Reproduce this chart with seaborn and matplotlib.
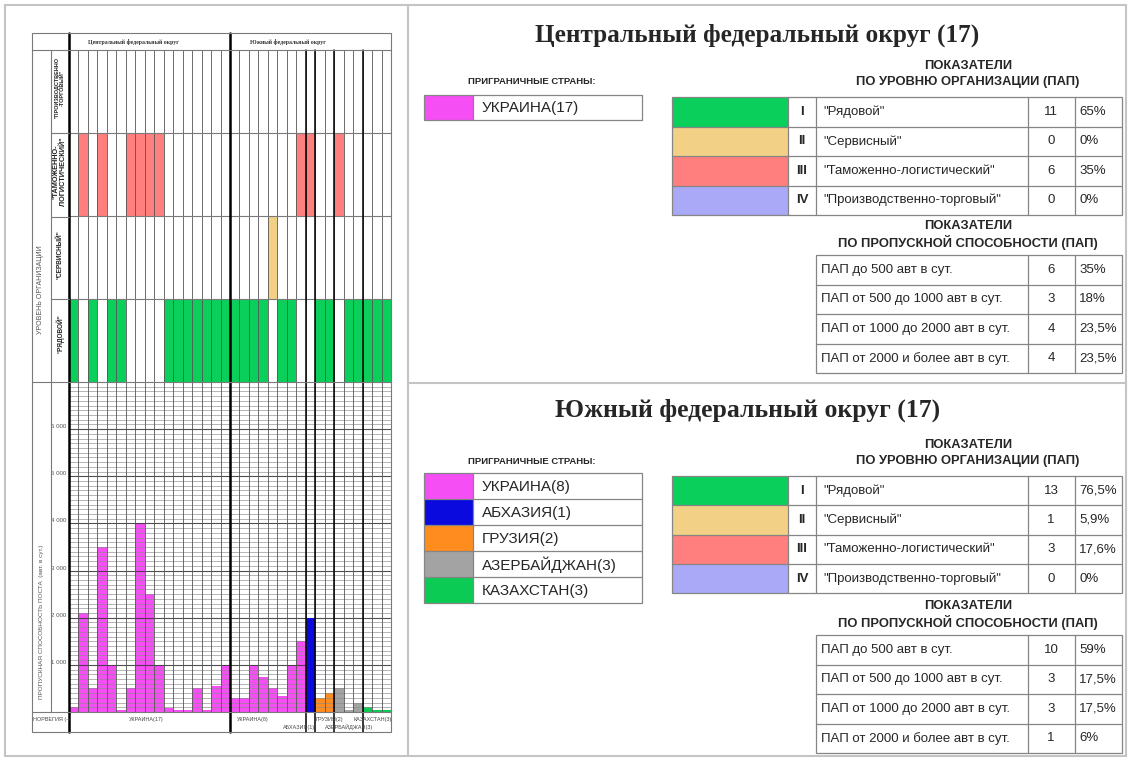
import numpy as np
import pandas as pd
import matplotlib
matplotlib.use("Agg")
import matplotlib.pyplot as plt
from matplotlib.colors import ListedColormap, to_rgba
from matplotlib.patches import Rectangle
import seaborn as sns

# ---------------------------------------------------------------- data
# organisation level of each border crossing point (П, Т, С, Р)
central_levels = ["Р", "Т", "Р", "Т", "Р", "Р", "Т", "Т", "Т", "Т",
                  "Р", "Р", "Р", "Р", "Р", "Р", "Р"]
south_levels = ["Р", "Р", "Р", "Р", "С", "Р", "Р", "Т", "Т", "Р",
                "Р", "Т", "Р", "Р", "Р", "Р", "Р"]

# capacity of each crossing point, vehicles per day
central_capacity = [100, 2100, 500, 3500, 1000, 50, 500, 4000, 2500, 1000,
                    80, 50, 50, 500, 50, 550, 1000]
south_capacity = [300, 300, 1000, 750, 500, 350, 1000, 1500, 2000, 300,
                  400, 500, 50, 200, 100, 50, 50]

# neighbouring countries: (name, number of crossing points)
central_groups = [("УКРАИНА", 17)]
south_groups = [("УКРАИНА", 8), ("АБХАЗИЯ", 1), ("ГРУЗИЯ", 2),
                ("АЗЕРБАЙДЖАН", 3), ("КАЗАХСТАН", 3)]
country_colors = {"УКРАИНА": "#F44EF4", "АБХАЗИЯ": "#0A0ADE",
                  "ГРУЗИЯ": "#FF8C1E", "АЗЕРБАЙДЖАН": "#A3A3A3",
                  "КАЗАХСТАН": "#0CCB55"}

level_codes = ["П", "Т", "С", "Р"]           # rows, top to bottom
level_row_labels = ['"ПРОИЗВОДСТВЕННО\n-ТОРГОВЫЙ"', '"ТАМОЖЕННО-\nЛОГИСТИЧЕСКИЙ"',
                    '"СЕРВИСНЫЙ"', '"РЯДОВОЙ"']
level_colors = {"Р": "#0ACF5A", "С": "#F2D186", "Т": "#FF7F7F", "П": "#A9A9F7"}

# summary tables
org_roman = ["I", "II", "III", "IV"]
org_names = ['"Рядовой"', '"Сервисный"', '"Таможенно-логистический"',
             '"Производственно-торговый"']
org_codes = ["Р", "С", "Т", "П"]
central_org_counts = [11, 0, 6, 0]
central_org_pct = ["65%", "0%", "35%", "0%"]
south_org_counts = [13, 1, 3, 0]
south_org_pct = ["76,5%", "5,9%", "17,6%", "0%"]

cap_names = ["ПАП до 500 авт в сут.", "ПАП от 500 до 1000 авт в сут.",
             "ПАП от 1000 до 2000 авт в сут.", "ПАП от 2000 и более авт в сут."]
central_cap_counts = [6, 3, 4, 4]
central_cap_pct = ["35%", "18%", "23,5%", "23,5%"]
south_cap_counts = [10, 3, 3, 1]
south_cap_pct = ["59%", "17,5%", "17,5%", "6%"]

# ---------------------------------------------------------------- style
sns.set_style("white")
plt.rcParams["font.family"] = ["Liberation Sans", "DejaVu Sans"]
SERIF = ["Liberation Serif", "DejaVu Serif"]

W, H = 1130, 760
fig = plt.figure(figsize=(W / 100, H / 100), dpi=100)
fig.patch.set_facecolor("white")


def px_axes(x0, y0, x1, y1, z=1):
    return fig.add_axes([x0 / W, 1 - y1 / H, (x1 - x0) / W, (y1 - y0) / H], zorder=z)


# ---------------------------------------------------------------- tidy frame
countries = [c for name, n in central_groups + south_groups for c in [name] * n]
levels = central_levels + south_levels
capacity = central_capacity + south_capacity
n_cols = len(levels)
df = pd.DataFrame({"pos": np.arange(n_cols), "value": capacity,
                   "country": countries, "level": levels})

# group boundaries (in column units)
sizes = [n for _, n in central_groups] + [n for _, n in south_groups]
bounds = np.cumsum([0] + sizes)[:-1]
district_bounds = [0, sum(n for _, n in central_groups)]

CX0, CX1 = 69, 391
THIN = "#555555"
FRAME = "#7a7a7a"

# ---------------------------------------------------------------- header row
ax_head = px_axes(CX0, 33, CX1, 50)
ax_head.set_xlim(0, n_cols)
ax_head.set_ylim(1, 0)
ax_head.axis("off")
for b in district_bounds:
    ax_head.axvline(b, color="black", lw=1.8, clip_on=False)

# ---------------------------------------------------------------- level grid
mat = np.array([[level_codes.index(l) + 1 if l == code else 0 for l in levels]
                for code in level_codes])
# colour index: 0 empty, then П, Т, С, Р
cmap = ListedColormap(["white"] + [level_colors[c] for c in level_codes])
ax_top = px_axes(CX0, 50, CX1, 382)
sns.heatmap(mat, cmap=cmap, vmin=-0.5, vmax=4.5, cbar=False, ax=ax_top,
            xticklabels=False, yticklabels=False)
for i in range(1, n_cols):
    ax_top.axvline(i, color=THIN, lw=0.6)
for j in range(1, len(level_codes)):
    ax_top.axhline(j, color=FRAME, lw=0.8)
for b in bounds:
    ax_top.axvline(b, color="black", lw=1.8 if b in district_bounds else 1.1, clip_on=False)

# ---------------------------------------------------------------- capacity bars
ax_bar = px_axes(CX0, 382, CX1, 712)
sns.barplot(data=df, x="pos", y="value", hue="country", palette=country_colors,
            hue_order=list(country_colors), dodge=False, width=1, saturation=1,
            errorbar=None, legend=False, linewidth=0, ax=ax_bar)
# the dark Abkhazia bar sits over the grid
dark = to_rgba(country_colors["АБХАЗИЯ"])
for p in ax_bar.patches:
    if np.allclose(p.get_facecolor(), dark):
        p.set_zorder(3.5)
ax_bar.set_xlim(-0.5, n_cols - 0.5)
ax_bar.set_ylim(0, 7000)
for v in range(100, 7000, 100):
    major = v % 1000 == 0
    ax_bar.axhline(v, color="#3c3c3c" if major else "#8c8c8c",
                   lw=0.8 if major else 0.5, zorder=3, alpha=0.9)
for i in range(1, n_cols):
    ax_bar.axvline(i - 0.5, color=THIN, lw=0.6, zorder=3.6)
for b in bounds:
    ax_bar.axvline(b - 0.5, color="black", lw=1.8 if b in district_bounds else 1.1,
                   zorder=4, clip_on=False)
for s in ax_bar.spines.values():
    s.set_visible(False)
ax_bar.set_xlabel("")
ax_bar.set_ylabel("")
ax_bar.set_xticks([])
ticks = list(range(1000, 7000, 1000))
ax_bar.set_yticks(ticks)
ax_bar.set_yticklabels([f"{t // 1000} 000" for t in ticks])
ax_bar.tick_params(axis="y", length=0, pad=2, labelsize=4.4, labelcolor="#555555")
for lab in ax_bar.get_yticklabels():
    lab.set_va("bottom")

# ---------------------------------------------------------------- country label row
ax_lab = px_axes(CX0, 712, CX1, 732)
ax_lab.set_xlim(-0.5, n_cols - 0.5)
ax_lab.set_ylim(1, 0)
ax_lab.axis("off")
for b in bounds:
    ax_lab.axvline(b - 0.5, color="black", lw=1.8 if b in district_bounds else 1.1,
                   clip_on=False)

# ---------------------------------------------------------------- overlay (pixel coords)
ov = fig.add_axes([0, 0, 1, 1], zorder=10)
ov.set_xlim(0, W)
ov.set_ylim(H, 0)
ov.axis("off")
ov.patch.set_alpha(0)

# page frame
ov.add_patch(Rectangle((5, 5), 1121, 751, fill=False, ec="#c4c4c4", lw=1.5))
ov.plot([408, 408], [5, 756], color="#c4c4c4", lw=1.5)
ov.plot([408, 1126], [383, 383], color="#c4c4c4", lw=1.5)

# left chart frame
ov.add_patch(Rectangle((32, 33), CX1 - 32, 732 - 33, fill=False, ec=FRAME, lw=0.8))
for y in (50, 382, 712):
    ov.plot([32, CX1], [y, y], color=FRAME, lw=0.8)
for y in (133, 217, 299):
    ov.plot([51, CX0], [y, y], color=FRAME, lw=0.8)
ov.plot([51, 51], [50, 712], color=FRAME, lw=0.8)

ov.text(133, 42, "Центральный федеральный округ", family=SERIF, weight="bold",
        fontsize=4.2, ha="center", va="center", color="#333333")
ov.text(288, 42, "Южный федеральный округ", family=SERIF, weight="bold",
        fontsize=4.2, ha="center", va="center", color="#333333")

row_centres = [88, 172, 255, 334]
row_sizes = [4.0, 5.3, 4.7, 4.7]
for lab, yc, fs in zip(level_row_labels, row_centres, row_sizes):
    ov.text(60, yc, lab, rotation=90, fontsize=fs, weight="bold",
            ha="center", va="center", linespacing=1.0, color="#222222")
ov.text(40, 290, "УРОВЕНЬ ОРГАНИЗАЦИИ", rotation=90, fontsize=5.0,
        ha="center", va="center", color="#555555")
ov.text(42, 622, "ПРОПУСКНАЯ СПОСОБНОСТЬ ПОСТА  (авт. в сут.)", rotation=90,
        fontsize=4.6, ha="center", va="center", color="#555555")

lab_kw = dict(fontsize=3.9, color="#444444", va="center")
ov.text(51, 720, "НОРВЕГИЯ (-)", ha="center", **lab_kw)
ov.text(146, 720, "УКРАИНА(17)", ha="center", **lab_kw)
ov.text(237, 719, "УКРАИНА(8)", ha="left", **lab_kw)
ov.text(315, 727, "АБХАЗИЯ(1)", ha="right", **lab_kw)
ov.text(316, 719, "ГРУЗИЯ(2)", ha="left", **lab_kw)
ov.text(325, 727, "АЗЕРБАЙДЖАН(3)", ha="left", **lab_kw)
ov.text(353, 719, "КАЗАХСТАН(3)", ha="left", **lab_kw)

# ---------------------------------------------------------------- right panel
LINE = "#858585"
TXT = 9.5


def grid_table(x_bounds, y_top, row_h, nrows):
    x0, x1 = x_bounds[0], x_bounds[-1]
    y1 = y_top + row_h * nrows
    ov.add_patch(Rectangle((x0, y_top), x1 - x0, y1 - y_top, fill=False, ec=LINE, lw=0.9))
    for r in range(1, nrows):
        y = y_top + r * row_h
        ov.plot([x0, x1], [y, y], color=LINE, lw=0.9)
    for x in x_bounds[1:-1]:
        ov.plot([x, x], [y_top, y1], color=LINE, lw=0.9)


def legend_box(names, y_top, row_h):
    x0, xs, x1 = 424, 473, 642
    for i, name in enumerate(names):
        y = y_top + i * row_h
        key = name.split("(")[0]
        ov.add_patch(Rectangle((x0, y), xs - x0, row_h, fc=country_colors[key], ec="none"))
        ov.text(482, y + row_h / 2 + 0.5, name, fontsize=11, ha="left", va="center")
    grid_table([x0, xs, x1], y_top, row_h, len(names))


def org_table(y_top, row_h, counts, pcts):
    xb = [672, 788, 816, 1028, 1075, 1122]
    for i, code in enumerate(org_codes):
        y = y_top + i * row_h
        ov.add_patch(Rectangle((xb[0], y), xb[1] - xb[0], row_h,
                               fc=level_colors[code], ec="none"))
        yc = y + row_h / 2
        ov.text(802, yc, org_roman[i], fontsize=TXT, weight="bold", ha="center", va="center")
        ov.text(823, yc, org_names[i], fontsize=TXT, ha="left", va="center")
        ov.text(1051, yc, str(counts[i]), fontsize=TXT, ha="center", va="center")
        ov.text(1079, yc, pcts[i], fontsize=TXT, ha="left", va="center")
    grid_table(xb, y_top, row_h, 4)


def cap_table(y_top, row_h, counts, pcts):
    xb = [816, 1028, 1075, 1122]
    for i in range(4):
        yc = y_top + i * row_h + row_h / 2
        ov.text(821, yc, cap_names[i], fontsize=TXT, ha="left", va="center")
        ov.text(1051, yc, str(counts[i]), fontsize=TXT, ha="center", va="center")
        ov.text(1079, yc, pcts[i], fontsize=TXT, ha="left", va="center")
    grid_table(xb, y_top, row_h, 4)


def block_heading(y, second):
    ov.text(968, y, "ПОКАЗАТЕЛИ", fontsize=9.3, weight="bold", ha="center", va="center")
    ov.text(968, y + 16, second, fontsize=9.3, weight="bold", ha="center", va="center")


# Central district
ov.text(757, 35, "Центральный федеральный округ (17)", family=SERIF, weight="bold",
        fontsize=18.2, ha="center", va="center")
ov.text(532, 81, "ПРИГРАНИЧНЫЕ СТРАНЫ:", fontsize=6.8, weight="bold",
        ha="center", va="center")
legend_box([f"{n}({k})" for n, k in central_groups], 95, 25)
block_heading(66, "ПО УРОВНЮ ОРГАНИЗАЦИИ (ПАП)")
org_table(97, 29.5, central_org_counts, central_org_pct)
block_heading(226, "ПО ПРОПУСКНОЙ СПОСОБНОСТИ (ПАП)")
cap_table(255, 29.5, central_cap_counts, central_cap_pct)

# Southern district
ov.text(748, 410, "Южный федеральный округ (17)", family=SERIF, weight="bold",
        fontsize=18.5, ha="center", va="center")
ov.text(532, 461, "ПРИГРАНИЧНЫЕ СТРАНЫ:", fontsize=6.8, weight="bold",
        ha="center", va="center")
legend_box([f"{n}({k})" for n, k in south_groups], 473, 26)
block_heading(445, "ПО УРОВНЮ ОРГАНИЗАЦИИ (ПАП)")
org_table(476, 29.3, south_org_counts, south_org_pct)
block_heading(606, "ПО ПРОПУСКНОЙ СПОСОБНОСТИ (ПАП)")
cap_table(635, 29.5, south_cap_counts, south_cap_pct)

fig.savefig("out.png", dpi=100, facecolor="white")
